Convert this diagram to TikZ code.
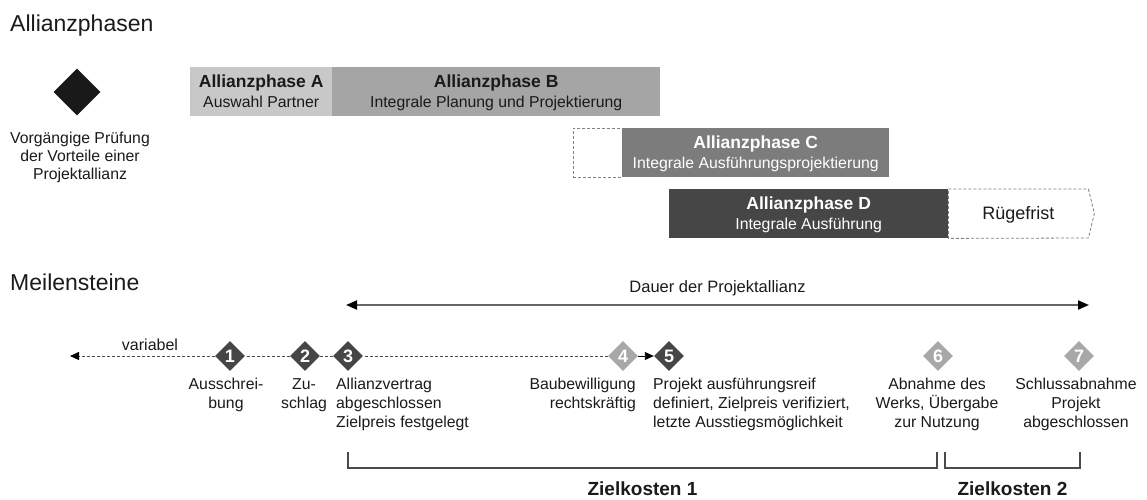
\documentclass[tikz,border=0pt]{standalone}
\usepackage{fontspec}
\setmainfont{Liberation Sans}
\usetikzlibrary{arrows.meta,shapes.geometric,calc}

\definecolor{phA}{HTML}{C8C8C8}
\definecolor{phB}{HTML}{A5A5A5}
\definecolor{phC}{HTML}{7C7C7C}
\definecolor{phD}{HTML}{464646}
\definecolor{msdark}{HTML}{464646}
\definecolor{mslight}{HTML}{A8A8A8}
\definecolor{lineg}{HTML}{4A4A4A}
\definecolor{txt}{HTML}{1A1A1A}

\newcommand\fs[2]{\fontsize{#1}{#2}\selectfont}
\newcommand\topstrut{\rule{0pt}{15pt}}

\begin{document}
\begin{tikzpicture}[x=1pt,y=-1pt,
  every node/.style={text=txt},
  heading/.style={anchor=base west, inner sep=0, font=\fs{23}{27}},
  phasebox/.style={anchor=north west, inner sep=0, minimum height=49pt},
  ptitle/.style={anchor=base, inner sep=0, font=\fs{17.5}{20}\bfseries},
  psub/.style={anchor=base, inner sep=0, font=\fs{15.8}{19}},
  dashbox/.style={draw=gray, dash pattern=on 3pt off 2pt, line width=0.8pt},
  ms/.style={diamond, aspect=1, inner sep=0, minimum size=30pt, text=white, font=\fs{18}{18}\bfseries},
  msd/.style={ms, fill=msdark},
  msl/.style={ms, fill=mslight},
  lbl/.style={anchor=north, inner sep=0, font=\fs{15.8}{19}},
  tline/.style={draw=lineg, line width=0.9pt, dash pattern=on 3pt off 2pt},
  tip/.style={-{Triangle[length=9pt,width=8pt,color=black]}},
  bracket/.style={draw=lineg, line width=2pt},
  cost/.style={anchor=base, inner sep=0, font=\fs{19}{22}\bfseries},
]
\useasboundingbox (0,0) rectangle (1147,499);

% ---------- Allianzphasen ----------
\node[heading] (h1) at (10,31.5) {Allianzphasen};

\node[diamond, aspect=1, fill=black!90, minimum size=47pt, inner sep=0] (pre) at (77,92) {};
\node[lbl, align=center, font=\fs{15.8}{18}] (pretext) at (80,128.5)
  {\topstrut Vorgängige Prüfung\\der Vorteile einer\\Projektallianz};

\node[phasebox, fill=phA, minimum width=142pt] (pa) at (190,67) {};
\node[phasebox, fill=phB, minimum width=328pt] (pb) at (332,67) {};
\node[ptitle] (ta) at ($(pa.north)+(0,20)$) {Allianzphase A};
\node[psub]   (sa) at ($(pa.north)+(0,40)$) {Auswahl Partner};
\node[ptitle] (tb) at ($(pb.north)+(0,20)$) {Allianzphase B};
\node[psub]   (sb) at ($(pb.north)+(0,40)$) {Integrale Planung und Projektierung};

\node[phasebox, dashbox, minimum width=49pt] (pcx) at (573,128) {};
\node[phasebox, fill=phC, minimum width=267pt] (pc) at (622,128) {};
\node[ptitle, text=white] (tc) at ($(pc.north)+(0,20)$) {Allianzphase C};
\node[psub, text=white]   (sc) at ($(pc.north)+(0,40)$) {Integrale Ausführungsprojektierung};

\node[phasebox, fill=phD, minimum width=279pt] (pd) at (669,189) {};
\node[ptitle, text=white] (td) at ($(pd.north)+(0,20)$) {Allianzphase D};
\node[psub, text=white]   (sd) at ($(pd.north)+(0,40)$) {Integrale Ausführung};

\draw[dashbox] (pd.north east) -- ++(140,0) -- ++(6,24.5) -- ++(-6,24.5) -- (pd.south east) -- cycle;
\node[anchor=base, inner sep=0, font=\fs{18}{20}] (rf) at ($(pd.north east)+(70,30)$) {Rügefrist};

% ---------- Meilensteine ----------
\node[heading] (h2) at (10,290) {Meilensteine};

\coordinate (dl) at (346,305);
\coordinate (dr) at (1089,305);
\draw[draw=black!60, line width=2pt,
  {Triangle[length=11pt,width=9pt,color=black]}-{Triangle[length=11pt,width=9pt,color=black]}]
  (dl) -- (dr);
\node[anchor=base, inner sep=0, font=\fs{16.5}{20}] (dauer) at ($(dl)!0.5!(dr)+(0,-13)$) {Dauer der Projektallianz};

\node[msd] (m1) at (230,356) {1};
\node[msd] (m2) at (305,356) {2};
\node[msd] (m3) at (348,356) {3};
\node[msl] (m4) at (623,356) {4};
\node[msd] (m5) at (669,356) {5};
\node[msl] (m6) at (938,356) {6};
\node[msl] (m7) at (1079,356) {7};
\coordinate (tl) at (70,356);

\draw[tline] (m4.west) -- (m3.east);
\draw[tline] (m3.west) -- (m2.east);
\draw[tline] (m2.west) -- (m1.east);
\draw[tline, tip] (m1.west) -- (tl);
\draw[draw=black, line width=0.9pt, tip] (m4.east) -- (m5.west);
\node[anchor=base, inner sep=0, font=\fs{16}{19}] (var) at (150,350) {variabel};

\node[lbl, align=center] (l1) at (226,374) {\topstrut Ausschrei-\\bung};
\node[lbl, align=center] (l2) at (304,374) {\topstrut Zu-\\schlag};
\node[lbl, anchor=north west, align=left] (l3) at (336,374)
  {\topstrut Allianzvertrag\\abgeschlossen\\Zielpreis festgelegt};
\node[lbl, anchor=north east, align=right] (l4) at (636,374)
  {\topstrut Baubewilligung\\rechtskräftig};
\node[lbl, anchor=north west, align=left] (l5) at (653,374)
  {\topstrut Projekt ausführungsreif\\definiert, Zielpreis verifiziert,\\letzte Ausstiegsmöglichkeit};
\node[lbl, align=center] (l6) at (937,374) {\topstrut Abnahme des\\Werks, Übergabe\\zur Nutzung};
\node[lbl, align=center] (l7) at (1076,374) {\topstrut Schlussabnahme\\Projekt\\abgeschlossen};

% ---------- Zielkosten ----------
\coordinate (b1l) at (348,452);
\coordinate (b1r) at (937,452);
\coordinate (b2l) at (945,452);
\coordinate (b2r) at (1080,452);
\draw[bracket] (b1l) -- ++(0,16) -| (b1r);
\draw[bracket] (b2l) -- ++(0,16) -| (b2r);
\node[cost] (z1) at ($(b1l)!0.5!(b1r)+(0,43)$) {Zielkosten 1};
\node[cost] (z2) at ($(b2l)!0.5!(b2r)+(0,43)$) {Zielkosten 2};
\end{tikzpicture}
\end{document}
